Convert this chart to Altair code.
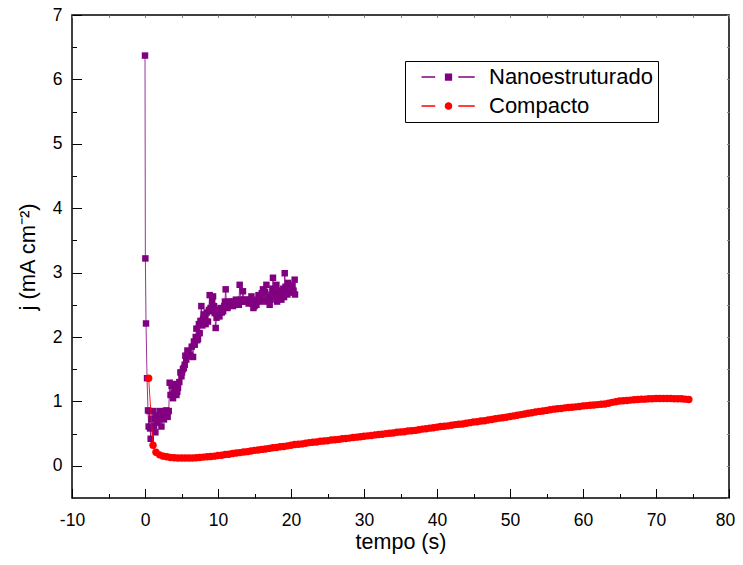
import altair as alt
import pandas as pd

# ---------------- data ----------------
nano_t = [0.0, 0.05, 0.14, 0.28, 0.41, 0.5, 0.6, 0.7, 0.78, 0.9, 0.96, 1.1, 1.25, 1.42, 1.55,
          1.7, 1.85, 2.0, 2.1, 2.25, 2.47, 2.6, 2.75, 2.93, 3.1, 3.25, 3.38, 3.5, 3.65, 3.84,
          3.95, 4.07, 4.2, 4.3, 4.42, 4.52, 4.7, 4.85, 4.99, 5.07, 5.2, 5.32, 5.44, 5.53, 5.65,
          5.81, 5.95, 6.1, 6.22, 6.4, 6.58, 6.7, 6.81, 6.95, 7.04, 7.15, 7.26, 7.38, 7.49, 7.6,
          7.72, 7.85, 7.95, 8.05, 8.18, 8.3, 8.45, 8.63, 8.75, 8.86, 8.98, 9.1, 9.2, 9.32, 9.45,
          9.55, 9.68, 9.8, 9.9, 10.05, 10.2, 10.35, 10.5, 10.7, 10.85, 10.95, 11.05, 11.15, 11.3,
          11.45, 11.6, 11.75, 11.9, 12.05, 12.2, 12.3, 12.45, 12.6, 12.74, 12.85, 12.97, 13.1,
          13.25, 13.42, 13.55, 13.7, 13.9, 14.05, 14.2, 14.4, 14.58, 14.7, 14.85, 15.0, 15.1,
          15.26, 15.4, 15.55, 15.71, 15.85, 16.0, 16.16, 16.3, 16.45, 16.63, 16.75, 16.9, 17.08,
          17.2, 17.32, 17.45, 17.53, 17.65, 17.8, 18.0, 18.1, 18.22, 18.35, 18.5, 18.68, 18.8,
          18.95, 19.05, 19.14, 19.25, 19.37, 19.5, 19.6, 19.75, 19.9, 20.05, 20.2, 20.35, 20.5,
          20.55]
nano_j = [6.37, 3.22, 2.21, 1.36, 0.86, 0.61, 0.85, 0.58, 0.42, 0.72, 0.73, 0.85, 0.62, 0.52, 0.78,
          0.67, 0.72, 0.85, 0.74, 0.61, 0.78, 0.72, 0.85, 0.86, 0.76, 0.85, 1.29, 1.10, 1.24, 1.05,
          1.12, 1.18, 1.27, 1.10, 1.15, 1.21, 1.30, 1.45, 1.39, 1.45, 1.50, 1.52, 1.57, 1.71, 1.65,
          1.79, 1.76, 1.72, 1.70, 1.85, 1.69, 1.93, 1.88, 2.00, 2.13, 1.95, 1.97, 2.20, 2.06, 2.25,
          2.48, 2.18, 2.28, 2.35, 2.30, 2.20, 2.38, 2.24, 2.42, 2.65, 2.45, 2.40, 2.55, 2.63, 2.48,
          2.37, 2.14, 2.30, 2.42, 2.35, 2.32, 2.45, 2.38, 2.40, 2.48, 2.55, 2.74, 2.53, 2.45,
          2.55, 2.50, 2.52, 2.55, 2.48, 2.55, 2.50, 2.58, 2.52, 2.56, 2.50, 2.81, 2.58,
          2.55, 2.71, 2.58, 2.55, 2.58, 2.55, 2.52, 2.58, 2.63, 2.52, 2.45, 2.48, 2.55,
          2.50, 2.58, 2.65, 2.61, 2.55, 2.68, 2.74, 2.58, 2.70, 2.81, 2.55, 2.62, 2.50,
          2.58, 2.66, 2.75, 2.92, 2.70, 2.62, 2.81, 2.55, 2.66, 2.72, 2.62, 2.58, 2.68,
          2.75, 2.62, 2.99, 2.78, 2.74, 2.66, 2.84, 2.70, 2.78, 2.69, 2.80, 2.72, 2.89,
          2.66]

comp_t = [0.5, 1.1,
          1.5, 2.0, 2.5, 3.0, 3.5, 4.0, 4.5, 5.0, 5.5, 6.0,
          6.5, 7.0, 7.5, 8.0, 8.5, 9.0, 9.5, 10.0, 10.5, 11.0,
          11.5, 12.0, 12.5, 13.0, 13.5, 14.0, 14.5, 15.0, 15.5, 16.0,
          16.5, 17.0, 17.5, 18.0, 18.5, 19.0, 19.5, 20.0, 20.5, 21.0,
          21.5, 22.0, 22.5, 23.0, 23.5, 24.0, 24.5, 25.0, 25.5, 26.0,
          26.5, 27.0, 27.5, 28.0, 28.5, 29.0, 29.5, 30.0, 30.5, 31.0,
          31.5, 32.0, 32.5, 33.0, 33.5, 34.0, 34.5, 35.0, 35.5, 36.0,
          36.5, 37.0, 37.5, 38.0, 38.5, 39.0, 39.5, 40.0, 40.5, 41.0,
          41.5, 42.0, 42.5, 43.0, 43.5, 44.0, 44.5, 45.0, 45.5, 46.0,
          46.5, 47.0, 47.5, 48.0, 48.5, 49.0, 49.5, 50.0, 50.5, 51.0,
          51.5, 52.0, 52.5, 53.0, 53.5, 54.0, 54.5, 55.0, 55.5, 56.0,
          56.5, 57.0, 57.5, 58.0, 58.5, 59.0, 59.5, 60.0, 60.5, 61.0,
          61.5, 62.0, 62.5, 63.0, 63.5, 64.0, 64.5, 65.0, 65.5, 66.0,
          66.5, 67.0, 67.5, 68.0, 68.5, 69.0, 69.5, 70.0, 70.5, 71.0,
          71.5, 72.0, 72.5, 73.0, 73.5, 74.0, 74.5]
comp_j = [1.36, 0.32,
          0.21, 0.17, 0.15, 0.14, 0.13, 0.125, 0.12, 0.12, 0.12, 0.12,
          0.12, 0.125, 0.13, 0.135, 0.14, 0.145, 0.15, 0.16, 0.165, 0.175,
          0.18, 0.19, 0.2, 0.205, 0.215, 0.22, 0.23, 0.24, 0.245, 0.255,
          0.26, 0.27, 0.28, 0.285, 0.295, 0.3, 0.31, 0.32, 0.33, 0.335,
          0.34, 0.35, 0.36, 0.365, 0.37, 0.38, 0.385, 0.39, 0.4, 0.405,
          0.41, 0.42, 0.425, 0.43, 0.44, 0.445, 0.45, 0.46, 0.465, 0.47,
          0.48, 0.485, 0.49, 0.5, 0.505, 0.51, 0.52, 0.525, 0.53, 0.54,
          0.545, 0.55, 0.56, 0.57, 0.575, 0.585, 0.59, 0.6, 0.61, 0.615,
          0.62, 0.63, 0.64, 0.645, 0.65, 0.66, 0.67, 0.68, 0.685, 0.695,
          0.7, 0.71, 0.72, 0.73, 0.74, 0.745, 0.755, 0.765, 0.775, 0.785,
          0.795, 0.805, 0.815, 0.825, 0.835, 0.845, 0.85, 0.86, 0.87, 0.88,
          0.885, 0.89, 0.9, 0.905, 0.91, 0.915, 0.92, 0.93, 0.935, 0.94,
          0.945, 0.95, 0.955, 0.96, 0.97, 0.985, 0.995, 1.005, 1.01, 1.015,
          1.02, 1.025, 1.03, 1.035, 1.035, 1.04, 1.04, 1.045, 1.045, 1.045,
          1.045, 1.045, 1.04, 1.04, 1.04, 1.035, 1.03]

series_names = ["Nanoestruturado", "Compacto"]
series_colors = ["#800080", "#ff0000"]

x_major = [-10, 0, 10, 20, 30, 40, 50, 60, 70, 80]
x_labels_main = [-10, 0, 10, 20, 30, 40, 50, 60, 70]
x_labels_end = [80]
x_minor = [-5, 5, 15, 25, 35, 45, 55, 65, 75]
x_fine = [-10, -5, 0, 5, 10, 15, 20, 25, 30, 35, 40, 45, 50, 55, 60, 65, 70, 75, 80]
y_major = [0, 1, 2, 3, 4, 5, 6, 7]
y_minor = [0.5, 1.5, 2.5, 3.5, 4.5, 5.5, 6.5]
y_fine = [-0.5, 0, 0.5, 1, 1.5, 2, 2.5, 3, 3.5, 4, 4.5, 5, 5.5, 6, 6.5, 7]

# ---------------- chart ----------------
W, H = 657, 483
FONT = "Liberation Sans"

nano = pd.DataFrame({"t": nano_t, "j": nano_j})
comp = pd.DataFrame({"t": comp_t, "j": comp_j})
leg = pd.DataFrame({"series": series_names, "t": [0, 0], "j": [0, 0]})

xs = alt.Scale(domain=[-10, 80], nice=False, zero=False)
ys = alt.Scale(domain=[-0.5, 7], nice=False, zero=False)


def tick_axis(orient, offset, values, size, color="black"):
    return alt.Axis(orient=orient, offset=offset, values=values, labels=False,
                    domain=False, grid=False, ticks=True, tickSize=size,
                    tickColor=color, tickWidth=1, title=None)


x_lab_axis = alt.Axis(orient="bottom", values=x_labels_main, ticks=False, tickSize=0,
                      domain=False, grid=False, labelPadding=13, labelFontSize=17.5,
                      labelFont=FONT, labelColor="black", labelFlush=False,
                      labelOverlap=False, labelExpr="'' + datum.value",
                      title="tempo (s)", titleFont=FONT, titleFontSize=21.5,
                      titleFontWeight="normal", titleColor="black", titlePadding=3)
x_end_axis = alt.Axis(orient="bottom", values=x_labels_end, ticks=False, tickSize=0,
                      domain=False, grid=False, labelPadding=13, labelFontSize=17.5,
                      labelFont=FONT, labelColor="black", labelFlush=False,
                      labelOverlap=False, labelExpr="'' + datum.value",
                      labelOffset=-4, title=None)
y_lab_axis = alt.Axis(orient="left", values=y_major, ticks=False, tickSize=0,
                      domain=False, grid=False, labelPadding=10, labelFontSize=17.5,
                      labelFont=FONT, labelColor="black", labelOverlap=False,
                      labelExpr="'' + datum.value",
                      title="j (mA cm⁻²)", titleFont=FONT, titleFontSize=22,
                      titleFontWeight="normal", titleColor="black", titlePadding=13)

nano_line = alt.Chart(nano).mark_line(color=series_colors[0], strokeWidth=1, opacity=0.8).encode(
    x=alt.X("t:Q", scale=xs, axis=x_lab_axis),
    y=alt.Y("j:Q", scale=ys, axis=y_lab_axis),
)
nano_pts = alt.Chart(nano).mark_point(shape="square", filled=True, size=42,
                                      color=series_colors[0], opacity=1).encode(
    x=alt.X("t:Q", scale=xs, axis=tick_axis("top", -H, x_major, 9.5)),
    y=alt.Y("j:Q", scale=ys, axis=tick_axis("right", -W, y_major, 9.5)),
)
comp_line = alt.Chart(comp).mark_line(color=series_colors[1], strokeWidth=1, opacity=0.9).encode(
    x=alt.X("t:Q", scale=xs, axis=tick_axis("top", -H, x_minor, 4.5)),
    y=alt.Y("j:Q", scale=ys, axis=tick_axis("right", -W, y_minor, 4.5)),
)
comp_pts = alt.Chart(comp).mark_point(shape="circle", filled=True, size=55,
                                      color=series_colors[1], opacity=1).encode(
    x=alt.X("t:Q", scale=xs, axis=tick_axis("bottom", -H, x_fine, 2.5, "#888888")),
    y=alt.Y("j:Q", scale=ys, axis=tick_axis("left", -W, y_fine, 2.5, "#888888")),
)

sq_path = "M-7.7,0H-3.8M2.8,0H7.5M-0.85,-0.85H0.85V0.85H-0.85Z"
ci_path = ("M-7.7,0H-3.8M2.8,0H7.5M-0.9,0A0.9,0.9,0,1,1,0.9,0"
           "A0.9,0.9,0,1,1,-0.9,0Z")

legend = alt.Legend(orient="none", legendX=333, legendY=46, title=None,
                    labelFont=FONT, labelFontSize=22, labelColor="black",
                    labelLimit=400,
                    symbolSize=49, symbolStrokeWidth=1.3, symbolOffset=27.5,
                    labelOffset=29.5, padding=5, rowPadding=7,
                    strokeColor="black", fillColor="white")

leg_layer = alt.Chart(leg).transform_filter("false").mark_point(
    filled=True, opacity=1, strokeWidth=1.3).encode(
    x=alt.X("t:Q", scale=xs, axis=x_end_axis),
    fill=alt.Fill("series:N", scale=alt.Scale(domain=series_names, range=series_colors),
                  legend=legend),
    stroke=alt.Stroke("series:N", scale=alt.Scale(domain=series_names, range=series_colors),
                      legend=legend),
    shape=alt.Shape("series:N", scale=alt.Scale(domain=series_names, range=[sq_path, ci_path]),
                    legend=legend),
)

chart = alt.layer(nano_line, nano_pts, comp_line, comp_pts, leg_layer).resolve_axis(
    x="independent", y="independent"
).properties(
    width=W, height=H,
    autosize=alt.AutoSizeParams(type="none"),
    padding={"left": 64, "top": 7, "right": 6, "bottom": 58},
    background="white",
).configure_view(stroke="black", strokeWidth=1.5)

chart.save("out.html", embed_options={"renderer": "svg", "actions": False})
